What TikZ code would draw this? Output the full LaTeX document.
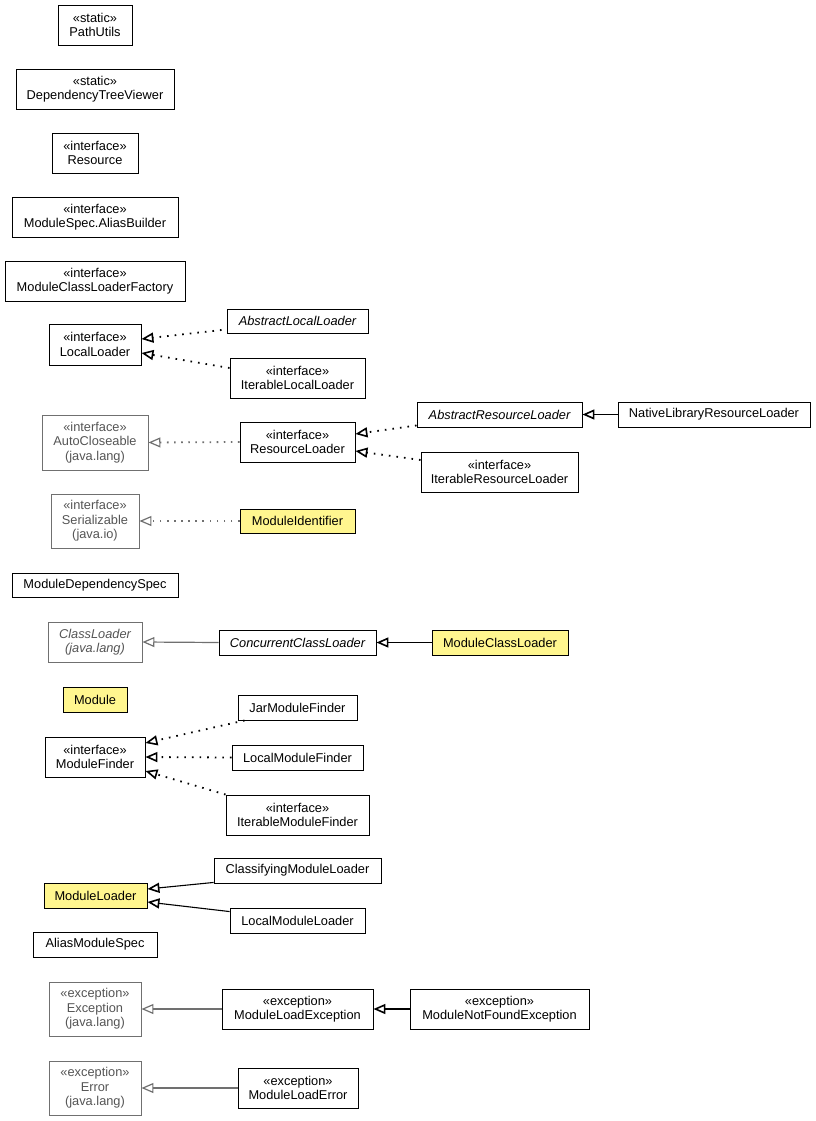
\documentclass[tikz,border=0pt]{standalone}
\usepackage{fontspec}
\setmainfont{Liberation Sans}
\usetikzlibrary{arrows.meta,calc}
\definecolor{khaki}{HTML}{FFF68F}
\definecolor{exttext}{HTML}{555555}
\definecolor{extline}{HTML}{707070}
\tikzset{
  cls/.style={draw=black, line width=0.9pt, fill=white, inner sep=0pt, align=center,
    font=\fontsize{12.8}{14.5}\selectfont},
  ext/.style={cls, draw=extline, line width=0.9pt, text=exttext},
  hl/.style={fill=khaki},
  sz/.style 2 args={minimum width=#1pt, minimum height=#2pt},
  gen/.style={line width=1.1pt, -{Triangle[open,length=12pt,width=10pt,line width=1.6pt]}},
  real/.style={gen, line width=1.8pt, dash pattern=on 1.6pt off 6pt},
  extgen/.style={line width=1.2pt, draw=extline, -{Triangle[open,length=12pt,width=10pt,line width=1.2pt]}},
  extreal/.style={extgen, line width=1.8pt, dash pattern=on 1.6pt off 5.5pt},
}
\begin{document}
\begin{tikzpicture}[x=1pt,y=-1pt]
\useasboundingbox (0,0) rectangle (816,1121);
\node[cls,sz={74}{40}] (pu) at (95,25) {«static»\\PathUtils};
\node[cls,sz={158}{40}] (dtv) at (95,89) {«static»\\DependencyTreeViewer};
\node[cls,sz={86}{40}] (res) at (95,153) {«interface»\\Resource};
\node[cls,sz={166}{40}] (ab) at (95,217) {«interface»\\ModuleSpec.AliasBuilder};
\node[cls,sz={180}{40}] (mclf) at (95,281) {«interface»\\ModuleClassLoaderFactory};
\node[cls,sz={92}{41}] (ll) at (95,344.5) {«interface»\\LocalLoader};
\node[cls,sz={141}{24}] (all) at (297.5,321) {\itshape AbstractLocalLoader};
\node[cls,sz={135}{40}] (ill) at (297.5,378) {«interface»\\IterableLocalLoader};
\node[ext,sz={106}{55}] (ac) at (95,442.5) {«interface»\\AutoCloseable\\(java.lang)};
\node[cls,sz={115}{40}] (rl) at (297.5,442) {«interface»\\ResourceLoader};
\node[cls,sz={165}{25}] (arl) at (499.5,414.5) {\itshape AbstractResourceLoader};
\node[cls,sz={192}{25}] (nlrl) at (714,414.5) {NativeLibraryResourceLoader};
\node[cls,sz={157}{40}] (irl) at (499.5,472) {«interface»\\IterableResourceLoader};
\node[ext,sz={88}{54}] (ser) at (95,521) {«interface»\\Serializable\\(java.io)};
\node[cls,hl,sz={115}{24}] (mi) at (297.5,521) {ModuleIdentifier};
\node[cls,sz={166}{24}] (mds) at (95,585) {ModuleDependencySpec};
\node[ext,sz={94}{40}] (cl) at (95,642) {\itshape ClassLoader\\\itshape (java.lang)};
\node[cls,sz={157}{25}] (ccl) at (297.5,642.5) {\itshape ConcurrentClassLoader};
\node[cls,hl,sz={136}{25}] (mcl) at (500,642.5) {ModuleClassLoader};
\node[cls,hl,sz={64}{25}] (mod) at (95,699.5) {Module};
\node[cls,sz={100}{40}] (mf) at (95,757) {«interface»\\ModuleFinder};
\node[cls,sz={119}{25}] (jmf) at (297.5,707.5) {JarModuleFinder};
\node[cls,sz={131}{25}] (lmf) at (297.5,757.5) {LocalModuleFinder};
\node[cls,sz={143}{40}] (imf) at (297.5,815) {«interface»\\IterableModuleFinder};
\node[cls,sz={167}{25}] (cml) at (297.5,870.5) {ClassifyingModuleLoader};
\node[cls,hl,sz={103}{25}] (ml) at (95.5,895.5) {ModuleLoader};
\node[cls,sz={135}{25}] (lml) at (297.5,920.5) {LocalModuleLoader};
\node[cls,sz={124}{25}] (ams) at (95,944.5) {AliasModuleSpec};
\node[ext,sz={92}{54}] (exc) at (95,1009) {«exception»\\Exception\\(java.lang)};
\node[cls,sz={151}{40}] (mle) at (297.5,1009) {«exception»\\ModuleLoadException};
\node[cls,sz={179}{40}] (mnfe) at (499.5,1009) {«exception»\\ModuleNotFoundException};
\node[ext,sz={92}{54}] (err) at (95,1088) {«exception»\\Error\\(java.lang)};
\node[cls,sz={120}{40}] (mlerr) at (298,1088) {«exception»\\ModuleLoadError};

\draw[real] ($(all.west)+(-5,9)$) -- ($(ll.east)+(0,-5.5)$);
\draw[real] ($(ill.west)+(0,-10)$) -- ($(ll.east)+(0,8.5)$);
\draw[extreal] (rl.west) -- (ac.east);
\draw[real] ($(arl.south west)+(0,-2)$) -- ($(rl.east)+(0,-8)$);
\draw[real] ($(irl.west)+(0,-12)$) -- ($(rl.east)+(0,9)$);
\draw[gen] (nlrl.west) -- (arl.east);
\draw[extreal] (mi.west) -- (ser.east);
\draw[extgen] (ccl.west) -- (cl.east);
\draw[gen] (mcl.west) -- (ccl.east);
\draw[real] ($(jmf.south west)+(7,0)$) -- ($(mf.east)+(0,-14)$);
\draw[real] (lmf.west) -- (mf.east);
\draw[real] (imf.north west) -- ($(mf.east)+(0,14)$);
\draw[gen] ($(cml.south west)+(0,-1)$) -- ($(ml.east)+(0,-6.5)$);
\draw[gen] ($(lml.north west)+(0,4)$) -- ($(ml.east)+(0,6.5)$);
\draw[extgen] (mle.west) -- (exc.east);
\draw[gen] (mnfe.west) -- (mle.east);
\draw[extgen] (mlerr.west) -- (err.east);
\end{tikzpicture}
\end{document}
